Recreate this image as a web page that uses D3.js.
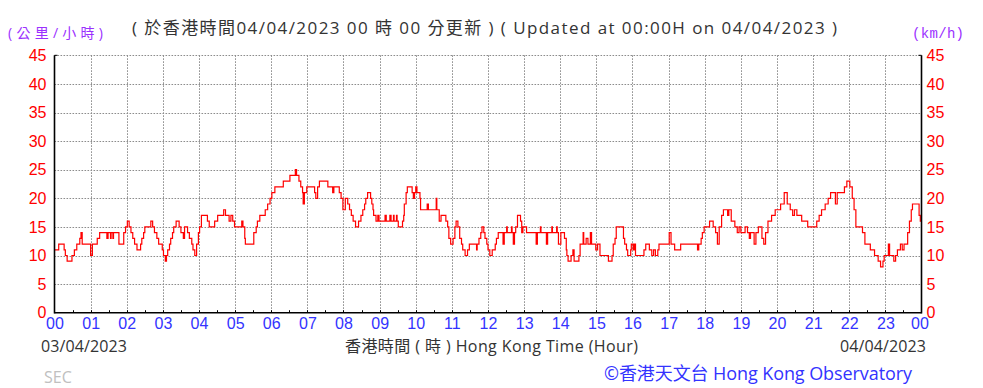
<!DOCTYPE html>
<html>
<head>
<meta charset="utf-8">
<script src="https://cdn.jsdelivr.net/npm/d3@7/dist/d3.min.js"></script>
<style>
  html, body { margin: 0; padding: 0; background: #fff; }
  svg { display: block; }
</style>
</head>
<body>
<svg id="chart" width="983" height="388"></svg>
<script>
// ---- Data (change points: minute of day at which the speed steps to a new value) ----
const changeMinutes = [
  0, 7, 16, 18, 21, 29, 33, 37, 42, 44, 46, 60, 63, 71, 75, 87, 89, 93, 94, 97, 98,
  107, 115, 118, 121, 124, 127, 130, 133, 137, 143, 145, 148, 150, 160, 163, 166, 170,
  173, 179, 181, 184, 186, 188, 191, 193, 196, 198, 202, 207, 210, 214, 216, 221, 224,
  228, 230, 233, 236, 239, 241, 244, 254, 257, 266, 271, 281, 284, 290, 293, 296, 299,
  311, 313, 316, 317, 331, 335, 337, 341, 350, 354, 358, 361, 366, 380, 391, 400, 402,
  406, 409, 412, 413, 415, 419, 432, 434, 437, 440, 454, 462, 464, 473, 476, 479, 483,
  487, 490, 493, 496, 500, 505, 509, 512, 515, 517, 520, 525, 527, 529, 530, 534, 537,
  539, 549, 551, 557, 559, 563, 564, 568, 569, 571, 578, 580, 581, 584, 586, 594, 596,
  598, 600, 602, 607, 608, 619, 621, 634, 635, 639, 642, 650, 653, 655, 658, 662, 665,
  667, 670, 673, 676, 678, 682, 686, 689, 701, 702, 705, 708, 710, 713, 715, 718, 720,
  723, 727, 732, 734, 737, 745, 747, 751, 752, 759, 760, 762, 764, 766, 769, 774, 776,
  778, 784, 800, 802, 807, 808, 817, 819, 826, 827, 834, 835, 837, 841, 847, 850, 851,
  853, 858, 861, 863, 871, 873, 878, 879, 883, 886, 890, 892, 899, 902, 906, 920, 926,
  928, 931, 933, 945, 947, 950, 952, 957, 958, 961, 963, 965, 979, 982, 988, 992, 995,
  998, 1002, 1004, 1021, 1024, 1030, 1040, 1068, 1070, 1074, 1076, 1079, 1088, 1094,
  1098, 1101, 1104, 1108, 1111, 1118, 1120, 1124, 1130, 1134, 1137, 1140, 1147, 1151,
  1154, 1156, 1162, 1165, 1169, 1175, 1178, 1181, 1185, 1191, 1197, 1206, 1212, 1217,
  1222, 1226, 1229, 1233, 1241, 1251, 1266, 1270, 1274, 1280, 1285, 1289, 1297, 1300,
  1312, 1316, 1321, 1325, 1328, 1331, 1342, 1346, 1355, 1362, 1368, 1372, 1376, 1378,
  1385, 1387, 1394, 1397, 1400, 1405, 1408, 1411, 1417, 1420, 1423, 1425, 1436, 1438, 1440
];
const speedKmh = [
  11, 12, 11, 10, 9, 10, 11, 12, 13, 14, 12, 10, 12, 13, 14, 13, 14, 13, 14, 13, 14,
  12, 14, 15, 16, 15, 14, 13, 12, 11, 12, 13, 14, 15, 16, 15, 14, 13,
  12, 11, 10, 9, 10, 11, 12, 13, 14, 15, 16, 15, 14, 13, 15, 14, 13,
  12, 11, 10, 12, 14, 15, 17, 16, 15, 16, 17, 18, 17, 16, 17, 16, 15,
  16, 15, 13, 12, 14, 15, 16, 17, 18, 19, 20, 21, 22, 23, 24, 25, 24,
  23, 22, 21, 19, 21, 22, 21, 20, 22, 23, 22, 21, 22, 21, 20, 18, 20,
  19, 18, 17, 16, 15, 16, 17, 18, 19, 20, 21, 20, 19, 18, 17, 16, 17,
  16, 17, 16, 17, 16, 17, 16, 17, 16, 15, 16, 17, 19, 21, 22, 21, 20,
  21, 22, 21, 20, 18, 19, 18, 20, 18, 16, 17, 16, 15, 13, 12, 13, 15,
  16, 15, 13, 12, 11, 10, 11, 12, 11, 12, 13, 14, 15, 14, 13, 12, 11,
  10, 11, 12, 13, 14, 12, 14, 15, 14, 15, 14, 12, 14, 15, 17, 16, 14,
  15, 14, 12, 14, 15, 14, 12, 14, 15, 14, 15, 14, 12, 14, 13, 11, 10,
  9, 10, 11, 9, 10, 12, 14, 12, 13, 12, 14, 12, 11, 12, 10, 9, 10,
  12, 13, 15, 13, 12, 11, 10, 11, 12, 11, 12, 10, 11, 12, 11, 10, 11,
  10, 11, 12, 14, 12, 11, 12, 11, 12, 13, 14, 15, 16, 15,
  14, 12, 15, 17, 18, 17, 18, 16, 15, 14, 15, 14, 15, 14,
  13, 14, 12, 14, 15, 13, 12, 14, 16, 17, 18, 19, 21, 19,
  18, 17, 18, 17, 16, 15, 16, 17, 18, 19, 20, 21, 19, 21,
  22, 23, 22, 20, 18, 15, 14, 12, 11, 10, 9, 8, 9, 10,
  12, 10, 9, 10, 11, 12, 11, 12, 14, 16, 18, 19, 17, 16, 16
];
const yTicks = [0, 5, 10, 15, 20, 25, 30, 35, 40, 45];
const hourTickMinutes = d3.range(0, 1441, 60);
const hourTickLabels = ["00","01","02","03","04","05","06","07","08","09","10","11",
  "12","13","14","15","16","17","18","19","20","21","22","23","00"];
const titleText = "( 於香港時間04/04/2023 00 時 00 分更新 ) ( Updated at 00:00H on 04/04/2023 )";
const leftUnit = "(公里/小時)";
const rightUnit = "(km/h)";
const startDate = "03/04/2023";
const endDate = "04/04/2023";
const xAxisTitle = "香港時間 ( 時 ) Hong Kong Time (Hour)";
const creditText = "©香港天文台 Hong Kong Observatory";
const stationText = "SEC";

// ---- Layout ----
const svg = d3.select("#chart");
const L = 54.5, R = 921.5, T = 55.3, B = 312.7;
const x = d3.scaleLinear().domain([0, 1440]).range([L, R]);
const y = d3.scaleLinear().domain([0, 45]).range([B, T]);

const sansCJK = "'Open Sans', 'Noto Sans CJK TC', 'Noto Sans', sans-serif";
const tickFont = "'Liberation Sans', Arial, sans-serif";
const purple = "#9b30ff";
const red = "#ff0000";
const blue = "#3333ff";

// gridlines
const grid = svg.append("g").attr("stroke", "#8c8c8c").attr("stroke-width", 1)
  .attr("stroke-dasharray", "1.6,1.4").attr("fill", "none");
grid.selectAll("line.h").data(yTicks.filter(d => d > 0)).join("line")
  .attr("x1", L).attr("x2", R)
  .attr("y1", d => Math.round(y(d)) + 0.5).attr("y2", d => Math.round(y(d)) + 0.5);
grid.selectAll("line.v").data(hourTickMinutes.slice(1, -1)).join("line")
  .attr("x1", d => Math.round(x(d)) + 0.5).attr("x2", d => Math.round(x(d)) + 0.5)
  .attr("y1", T).attr("y2", B);

// data line
const pts = changeMinutes.map((m, i) => [m, speedKmh[i]]);
const line = d3.line().x(d => x(d[0])).y(d => y(d[1])).curve(d3.curveStepAfter);
svg.append("path").datum(pts).attr("d", line)
  .attr("fill", "none").attr("stroke", red).attr("stroke-width", 1.2);

// axes
const yLeft = d3.axisLeft(y).tickValues(yTicks).tickSize(0).tickPadding(8);
const gL = svg.append("g").attr("transform", `translate(${L},0)`).call(yLeft);
gL.select(".domain").remove();
gL.selectAll("text").attr("fill", red).style("font-family", tickFont).style("font-size", "16px");

const yRight = d3.axisRight(y).tickValues(yTicks).tickSize(0).tickPadding(5);
const gR = svg.append("g").attr("transform", `translate(${R},0)`).call(yRight);
gR.select(".domain").remove();
gR.selectAll("text").attr("fill", red).style("font-family", tickFont).style("font-size", "16px");

const xAxis = d3.axisBottom(x).tickValues(hourTickMinutes).tickFormat((d, i) => hourTickLabels[i])
  .tickSize(0).tickPadding(5);
const gX = svg.append("g").attr("transform", `translate(0,${B})`).call(xAxis);
gX.select(".domain").remove();
gX.selectAll("text").attr("fill", blue).style("font-family", tickFont).style("font-size", "16px");
// last "00" sits slightly left, as in the reference
gX.selectAll("text").filter((d, i) => i === hourTickLabels.length - 1).attr("dx", "-2");

// axis frame lines
const frame = svg.append("g").attr("stroke", "#000").attr("stroke-width", 1.6);
frame.append("line").attr("x1", L).attr("x2", L).attr("y1", T).attr("y2", B + 0.8);
frame.append("line").attr("x1", R).attr("x2", R).attr("y1", T).attr("y2", B + 0.8);
frame.append("line").attr("x1", L).attr("x2", R).attr("y1", B).attr("y2", B);
// small end ticks at the top
frame.append("line").attr("x1", L).attr("x2", L + 3).attr("y1", T).attr("y2", T).attr("stroke-width", 1);
frame.append("line").attr("x1", R - 3).attr("x2", R).attr("y1", T).attr("y2", T).attr("stroke-width", 1);
// minor ticks on bottom axis every 30 minutes
svg.append("g").attr("stroke", "#000").attr("stroke-width", 1)
  .selectAll("line").data(d3.range(30, 1440, 30)).join("line")
  .attr("x1", d => Math.round(x(d)) + 0.5).attr("x2", d => Math.round(x(d)) + 0.5)
  .attr("y1", B - 2.5).attr("y2", B);

// texts
function txt(str, xPos, yPos, opts) {
  const t = svg.append("text").attr("x", xPos).attr("y", yPos)
    .attr("text-anchor", opts.anchor || "start")
    .attr("fill", opts.fill).style("font-family", opts.font || sansCJK)
    .style("font-size", opts.size + "px").text(str);
  if (opts.len) t.attr("textLength", opts.len).attr("lengthAdjust", "spacing");
  return t;
}
txt(titleText, 484.5, 34, { anchor: "middle", fill: "#333", size: 17, len: 705 });
txt(leftUnit, 8, 38, { fill: purple, size: 14, len: 95 });
txt(rightUnit, 964, 38, { anchor: "end", fill: purple, size: 14,
  font: "'Liberation Mono', 'DejaVu Sans Mono', monospace", len: 52 });
txt(startDate, 41, 352, { fill: "#333", size: 16, len: 86 });
txt(endDate, 926, 352, { anchor: "end", fill: "#333", size: 16, len: 86 });
txt(xAxisTitle, 491.5, 352, { anchor: "middle", fill: "#333", size: 16, len: 293 });
txt(stationText, 44, 383, { fill: "#c0c0c0", size: 16 });
txt(creditText, 912, 380, { anchor: "end", fill: blue, size: 18, len: 308 });
</script>
</body>
</html>
